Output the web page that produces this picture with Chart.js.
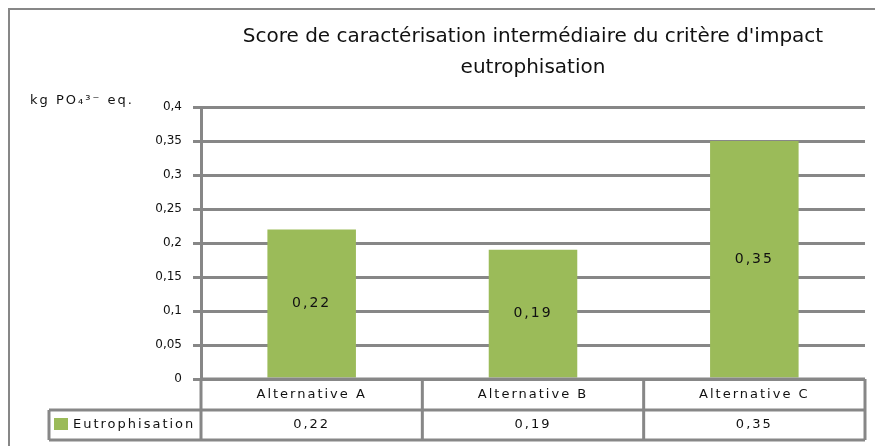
<!DOCTYPE html>
<html lang="fr">
<head>
<meta charset="utf-8">
<title>Eutrophisation</title>
<script src="https://cdn.jsdelivr.net/npm/chart.js@4.4.1/dist/chart.umd.min.js"></script>
<style>
  html, body { margin: 0; padding: 0; background: #fff; }
  #wrap { width: 875px; height: 446px; }
</style>
</head>
<body>
<div id="wrap"><canvas id="chartCanvas" width="875" height="446"></canvas></div>
<script>
const categories = ['Alternative A', 'Alternative B', 'Alternative C'];
const seriesName = 'Eutrophisation';
const seriesValues = [0.22, 0.19, 0.35];
const titleLines = ["Score de caractérisation intermédiaire du critère d'impact", 'eutrophisation'];
const yUnit = 'kg PO₄³⁻ eq.';
const yMin = 0;
const yMax = 0.4;
const yStep = 0.05;

const barColor = '#9bbb59';
const lineColor = '#878787';
const textColor = '#111';
const fontName = '"DejaVu Sans", sans-serif';

// 0.35 -> "0,35"
function tickText(v) {
    const r = Math.round(v * 100) / 100;
    return String(r).replace('.', ',');
}
function valueText(v) {
    return v.toFixed(2).replace('.', ',');
}

// outer frame of the chart object
const framePlugin = {
    id: 'frame',
    beforeDraw(chart) {
        const ctx = chart.ctx;
        ctx.save();
        ctx.fillStyle = '#fff';
        ctx.fillRect(0, 0, chart.width, chart.height);
        ctx.strokeStyle = lineColor;
        ctx.lineWidth = 2;
        ctx.strokeRect(9, 9, chart.width + 20, chart.height + 20);
        ctx.restore();
    }
};

// unit label above the value axis
const unitPlugin = {
    id: 'unitLabel',
    afterDraw(chart) {
        const ctx = chart.ctx;
        ctx.save();
        ctx.font = '13px ' + fontName;
        ctx.letterSpacing = '2px';
        ctx.fillStyle = textColor;
        ctx.textAlign = 'left';
        ctx.textBaseline = 'middle';
        ctx.fillText(yUnit, 30, 101);
        ctx.restore();
    }
};

// value written in the middle of each bar
const barLabelPlugin = {
    id: 'barLabels',
    afterDatasetsDraw(chart) {
        const ctx = chart.ctx;
        const meta = chart.getDatasetMeta(0);
        ctx.save();
        ctx.font = '14px ' + fontName;
        ctx.letterSpacing = '2px';
        ctx.fillStyle = '#111';
        ctx.textAlign = 'center';
        ctx.textBaseline = 'middle';
        meta.data.forEach(function (bar, i) {
            ctx.fillText(valueText(seriesValues[i]), bar.x, (bar.y + bar.base) / 2);
        });
        ctx.restore();
    }
};

// data table under the plot: categories row + series row
const tablePlugin = {
    id: 'dataTable',
    afterDraw(chart) {
        const ctx = chart.ctx;
        const area = chart.chartArea;
        const xs = chart.scales.x;
        const n = categories.length;
        const colW = (area.right - area.left) / n;
        const top = area.bottom;
        const mid = top + 31;
        const bottom = mid + 30;
        const legendLeft = 49;

        ctx.save();
        ctx.strokeStyle = lineColor;
        ctx.lineWidth = 3;
        ctx.beginPath();
        ctx.moveTo(area.left, top);
        ctx.lineTo(area.right, top);
        ctx.moveTo(legendLeft, mid);
        ctx.lineTo(area.right, mid);
        ctx.moveTo(legendLeft, bottom);
        ctx.lineTo(area.right, bottom);
        ctx.moveTo(legendLeft, mid);
        ctx.lineTo(legendLeft, bottom);
        for (let i = 0; i <= n; i++) {
            const x = area.left + i * colW;
            ctx.moveTo(x, top);
            ctx.lineTo(x, bottom);
        }
        ctx.stroke();

        ctx.font = '13px ' + fontName;
        ctx.letterSpacing = '2px';
        ctx.fillStyle = textColor;
        ctx.textAlign = 'center';
        ctx.textBaseline = 'middle';
        categories.forEach(function (c, i) {
            const x = xs.getPixelForValue(i);
            ctx.fillText(c, x, (top + mid) / 2);
            ctx.fillText(valueText(seriesValues[i]), x, (mid + bottom) / 2);
        });

        ctx.fillStyle = barColor;
        ctx.fillRect(54, mid + 8, 14, 12);
        ctx.fillStyle = textColor;
        ctx.textAlign = 'left';
        ctx.fillText(seriesName, 73, (mid + bottom) / 2);
        ctx.restore();
    }
};

const ctx = document.getElementById('chartCanvas');

const chart = new Chart(ctx, {
    type: 'bar',
    data: {
        labels: categories,
        datasets: [{
            label: seriesName,
            data: seriesValues,
            backgroundColor: barColor,
            borderWidth: 0,
            barPercentage: 0.4,
            categoryPercentage: 1.0
        }]
    },
    options: {
        responsive: false,
        animation: false,
        events: [],
        layout: { padding: { left: 0, right: 10, top: 0, bottom: 67 } },
        plugins: {
            legend: { display: false },
            tooltip: { enabled: false },
            title: {
                display: true,
                text: titleLines,
                fullSize: false,
                color: textColor,
                font: { family: fontName, size: 20, weight: 'normal', lineHeight: 31 / 20 },
                padding: { top: 21, bottom: 24 }
            }
        },
        scales: {
            x: {
                grid: { display: false, drawTicks: false },
                border: { display: false },
                ticks: { display: false }
            },
            y: {
                min: yMin,
                max: yMax,
                ticks: {
                    stepSize: yStep,
                    callback: tickText,
                    padding: 11,
                    color: textColor,
                    font: { family: fontName, size: 12 }
                },
                grid: { color: lineColor, lineWidth: 3, tickLength: 8 },
                border: { color: lineColor, width: 3 },
                afterFit: function (scale) {
                    scale.width = 201;
                }
            }
        }
    },
    plugins: [framePlugin, unitPlugin, barLabelPlugin, tablePlugin]
});
</script>
</body>
</html>
